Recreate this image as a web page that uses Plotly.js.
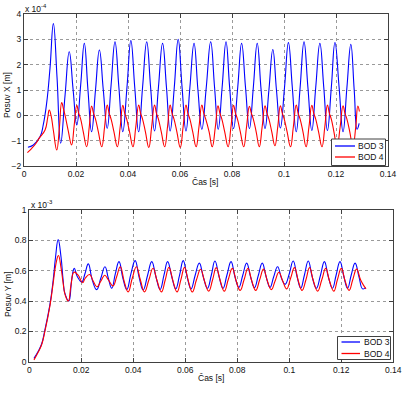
<!DOCTYPE html>
<html>
<head>
<meta charset="utf-8">
<script src="https://cdn.plot.ly/plotly-3.0.1.min.js"></script>
<style>
html,body{margin:0;padding:0;background:#fff;}
#chart{width:411px;height:393px;}
</style>
</head>
<body>
<div id="chart"></div>
<script>
// ---- Data ----
// Top plot: Posuv X, values in units of 1e-4 m
const tX3 = [0.0015,0.0036,0.0062,0.0074,0.0087,0.0100,0.0113,0.0127,0.0141,0.0158,0.0174,0.0189,0.0203,0.0218,0.0232,0.0246,0.0260,0.0275,0.0290,0.0305,0.0320,0.0335,0.0350,0.0365,0.0380,0.0396,0.0411,0.0426,0.0441,0.0456,0.0472,0.0487,0.0502,0.0517,0.0533,0.0548,0.0562,0.0578,0.0593,0.0608,0.0623,0.0638,0.0654,0.0669,0.0684,0.0701,0.0718,0.0733,0.0747,0.0762,0.0777,0.0791,0.0806,0.0822,0.0837,0.0852,0.0867,0.0882,0.0897,0.0912,0.0927,0.0942,0.0957,0.0971,0.0986,0.1002,0.1017,0.1032,0.1047,0.1062,0.1077,0.1092,0.1107,0.1122,0.1138,0.1153,0.1167,0.1182,0.1196,0.1212,0.1227,0.1242,0.1257,0.1270,0.1281,0.1289];
const yX3 = [-1.26,-1.17,-0.84,-0.38,0.47,1.86,3.62,1.5,-1.1,0.8,2.51,1.0,-0.38,1.2,2.84,1.0,-0.65,1.0,2.58,1.0,-0.51,1.2,2.9,1.1,-0.65,1.1,2.95,1.1,-0.65,1.1,2.9,1.1,-0.62,1.1,2.84,1.1,-0.62,1.1,3.0,1.1,-0.62,1.1,2.84,1.0,-0.55,1.1,2.9,1.1,-0.55,1.1,2.9,1.1,-0.52,1.1,2.84,1.1,-0.52,1.1,2.84,1.0,-0.52,1.0,2.6,1.0,-0.5,1.1,2.87,1.1,-0.65,1.1,2.9,1.1,-0.6,1.1,2.84,1.1,-0.6,1.1,2.87,1.1,-0.65,1.1,2.8,1.0,-0.55,-0.32];

const tX4 = [0.0013,0.0030,0.0045,0.0060,0.0081,0.0091,0.0097,0.0104,0.0113,0.0126,0.0136,0.0145,0.0152,0.0160,0.0170,0.0183,0.0193,0.0203,0.0210,0.0218,0.0228,0.0241,0.0251,0.0260,0.0267,0.0275,0.0286,0.0299,0.0310,0.0320,0.0327,0.0335,0.0346,0.0359,0.0370,0.0380,0.0387,0.0395,0.0406,0.0419,0.0430,0.0441,0.0448,0.0456,0.0467,0.0480,0.0491,0.0502,0.0509,0.0517,0.0528,0.0541,0.0552,0.0562,0.0569,0.0577,0.0588,0.0601,0.0612,0.0623,0.0630,0.0638,0.0649,0.0662,0.0673,0.0684,0.0691,0.0699,0.0712,0.0724,0.0736,0.0746,0.0753,0.0761,0.0772,0.0785,0.0796,0.0806,0.0813,0.0821,0.0832,0.0845,0.0856,0.0867,0.0874,0.0882,0.0893,0.0905,0.0916,0.0927,0.0934,0.0942,0.0953,0.0965,0.0976,0.0986,0.0993,0.1001,0.1012,0.1025,0.1036,0.1047,0.1054,0.1062,0.1073,0.1085,0.1096,0.1107,0.1114,0.1122,0.1133,0.1146,0.1157,0.1167,0.1174,0.1182,0.1192,0.1204,0.1216,0.1227,0.1234,0.1242,0.1253,0.1265,0.1276,0.1284,0.1290];
const yX4 = [-1.47,-1.3,-1.12,-0.88,-0.58,-0.1,0.21,0.0,-0.6,-1.37,-0.5,0.5,0.25,-0.1,-0.6,-1.17,-0.4,0.4,0.1,-0.15,-0.65,-1.24,-0.45,0.37,0.1,-0.15,-0.65,-1.24,-0.45,0.41,0.1,-0.15,-0.65,-1.24,-0.45,0.4,0.1,-0.15,-0.65,-1.24,-0.45,0.41,0.1,-0.15,-0.65,-1.27,-0.45,0.41,0.1,-0.15,-0.65,-1.24,-0.45,0.41,0.1,-0.15,-0.65,-1.27,-0.45,0.41,0.1,-0.15,-0.65,-1.24,-0.45,0.41,0.1,-0.15,-0.65,-1.24,-0.45,0.38,0.1,-0.15,-0.65,-1.24,-0.45,0.4,0.1,-0.15,-0.65,-1.24,-0.45,0.36,0.1,-0.15,-0.65,-1.24,-0.45,0.38,0.1,-0.15,-0.65,-1.2,-0.45,0.38,0.1,-0.15,-0.65,-1.24,-0.45,0.41,0.1,-0.15,-0.65,-1.24,-0.45,0.4,0.1,-0.15,-0.65,-1.24,-0.45,0.41,0.1,-0.15,-0.65,-1.24,-0.45,0.38,0.1,-0.15,-0.65,-1.24,-0.45,0.37,0.15];

// Bottom plot: Posuv Y, values in units of 1e-3 m
const tY3 = [0.0018,0.0035,0.0048,0.0060,0.0080,0.0092,0.0101,0.0111,0.0122,0.0130,0.0137,0.0152,0.0163,0.0173,0.0185,0.0202,0.0214,0.0227,0.0242,0.0259,0.0275,0.0291,0.0304,0.0317,0.0331,0.0345,0.0360,0.0375,0.0391,0.0407,0.0422,0.0438,0.0455,0.0471,0.0487,0.0503,0.0518,0.0532,0.0548,0.0563,0.0578,0.0592,0.0607,0.0622,0.0638,0.0654,0.0669,0.0685,0.0700,0.0714,0.0730,0.0745,0.0760,0.0776,0.0791,0.0806,0.0821,0.0836,0.0851,0.0866,0.0881,0.0896,0.0911,0.0926,0.0940,0.0955,0.0970,0.0984,0.1000,0.1015,0.1030,0.1044,0.1058,0.1073,0.1088,0.1104,0.1120,0.1135,0.1150,0.1166,0.1180,0.1195,0.1210,0.1224,0.1238,0.1253,0.1268,0.1282,0.1294];
const yY3 = [0.022,0.07,0.12,0.21,0.385,0.54,0.69,0.805,0.69,0.54,0.45,0.40,0.54,0.615,0.56,0.525,0.58,0.645,0.54,0.475,0.55,0.626,0.55,0.484,0.58,0.66,0.55,0.475,0.58,0.666,0.56,0.473,0.57,0.66,0.56,0.476,0.57,0.66,0.56,0.48,0.57,0.666,0.56,0.48,0.57,0.65,0.56,0.484,0.57,0.664,0.56,0.484,0.57,0.66,0.56,0.49,0.57,0.65,0.56,0.488,0.57,0.65,0.56,0.49,0.56,0.626,0.55,0.51,0.58,0.664,0.56,0.484,0.57,0.664,0.56,0.484,0.57,0.66,0.56,0.484,0.57,0.66,0.56,0.484,0.57,0.65,0.56,0.48,0.488];

const tY4 = [0.0018,0.0035,0.0048,0.0060,0.0080,0.0092,0.0102,0.0112,0.0122,0.0130,0.0138,0.0150,0.0160,0.0172,0.0188,0.0205,0.0215,0.0232,0.0246,0.0260,0.0275,0.0290,0.0304,0.0322,0.0336,0.0350,0.0365,0.0380,0.0396,0.0412,0.0427,0.0443,0.0460,0.0476,0.0492,0.0508,0.0523,0.0537,0.0553,0.0568,0.0583,0.0597,0.0612,0.0627,0.0643,0.0659,0.0674,0.0690,0.0705,0.0719,0.0735,0.0750,0.0765,0.0781,0.0796,0.0811,0.0826,0.0841,0.0856,0.0871,0.0886,0.0901,0.0916,0.0931,0.0945,0.0960,0.0975,0.0990,0.1005,0.1020,0.1035,0.1049,0.1064,0.1078,0.1093,0.1109,0.1125,0.1140,0.1155,0.1171,0.1185,0.1200,0.1215,0.1230,0.1244,0.1259,0.1274,0.1287,0.1295];
const yY4 = [0.012,0.065,0.115,0.2,0.375,0.52,0.64,0.70,0.62,0.52,0.44,0.40,0.5,0.59,0.57,0.52,0.55,0.575,0.53,0.494,0.53,0.57,0.54,0.50,0.56,0.626,0.53,0.46,0.55,0.626,0.54,0.46,0.54,0.616,0.53,0.46,0.54,0.622,0.53,0.46,0.54,0.622,0.53,0.46,0.54,0.609,0.53,0.465,0.54,0.62,0.53,0.465,0.54,0.615,0.53,0.47,0.54,0.615,0.53,0.47,0.54,0.61,0.53,0.475,0.53,0.59,0.53,0.48,0.55,0.62,0.53,0.47,0.54,0.62,0.53,0.465,0.54,0.615,0.53,0.465,0.54,0.615,0.53,0.47,0.54,0.61,0.54,0.5,0.48];

const seriesNames = ['BOD 3', 'BOD 4'];
const seriesColors = ['#0000ff', '#ff0000'];
const xTitle = 'Čas [s]';
const yTitleTop = 'Posuv X [m]';
const yTitleBottom = 'Posuv Y [m]';
const expTop = 'x 10<sup>-4</sup>';
const expBottom = 'x 10<sup>-3</sup>';

// ---- Styling ----
const W = 411, H = 393;
const FONT = 'Liberation Sans, Arial, sans-serif';
const TXT = '#111111';
const FS = 8.5;
const px = (x) => x / W;          // pixel -> paper x
const py = (y) => (H - y) / H;    // pixel -> paper y

const axisCommon = {
  showline: true, mirror: 'ticks', linecolor: '#404040', linewidth: 1,
  ticks: 'inside', ticklen: 4, tickcolor: '#404040', tickwidth: 1,
  showgrid: true, gridcolor: '#9a9a9a', griddash: 'dot', gridwidth: 1,
  zeroline: false, tickfont: {family: FONT, size: FS, color: TXT},
  automargin: false, fixedrange: true
};
const lineStyle = (c) => ({color: c, width: 1.1, shape: 'spline', smoothing: 1.3});

const traces = [
  {x: tX3, y: yX3, name: seriesNames[0], mode: 'lines', line: lineStyle(seriesColors[0]), xaxis: 'x', yaxis: 'y'},
  {x: tX4, y: yX4, name: seriesNames[1], mode: 'lines', line: lineStyle(seriesColors[1]), xaxis: 'x', yaxis: 'y'},
  {x: tY3, y: yY3, name: seriesNames[0], mode: 'lines', line: lineStyle(seriesColors[0]), xaxis: 'x2', yaxis: 'y2'},
  {x: tY4, y: yY4, name: seriesNames[1], mode: 'lines', line: lineStyle(seriesColors[1]), xaxis: 'x2', yaxis: 'y2'}
];

// Compact MATLAB-style legends built from layout shapes + annotations
function legendBox(x0, y0, x1, y1, rows, sampleX0, sampleX1, textX) {
  const shapes = [{type: 'rect', xref: 'paper', yref: 'paper', x0: px(x0), x1: px(x1), y0: py(y1), y1: py(y0),
    fillcolor: '#ffffff', line: {color: '#404040', width: 1}, layer: 'above'}];
  const anns = [];
  rows.forEach((ry, i) => {
    shapes.push({type: 'line', xref: 'paper', yref: 'paper', x0: px(sampleX0), x1: px(sampleX1), y0: py(ry), y1: py(ry),
      line: {color: seriesColors[i], width: 1.3}, layer: 'above'});
    anns.push({text: seriesNames[i], xref: 'paper', yref: 'paper', x: px(textX), y: py(ry), xanchor: 'left', yanchor: 'middle',
      showarrow: false, font: {family: FONT, size: FS, color: TXT}});
  });
  return {shapes, anns};
}
const legTop = legendBox(331.5, 139, 385.5, 165.5, [146, 157], 335, 355, 356);
const legBot = legendBox(337.5, 336.5, 390.5, 359.5, [342, 353.5], 341.5, 360, 361.5);

function label(text, x, y, angle) {
  return {text: text, xref: 'paper', yref: 'paper', x: px(x), y: py(y), xanchor: 'center', yanchor: 'middle',
    textangle: angle || 0, showarrow: false, font: {family: FONT, size: FS, color: TXT}};
}

const layout = {
  width: W, height: H,
  margin: {l: 0, r: 0, t: 0, b: 0},
  paper_bgcolor: '#ffffff', plot_bgcolor: '#ffffff',
  showlegend: false,
  xaxis: Object.assign({}, axisCommon, {domain: [px(24), px(388)], range: [0, 0.14], tick0: 0, dtick: 0.02, anchor: 'y'}),
  yaxis: Object.assign({}, axisCommon, {domain: [py(166), py(14)], range: [-2, 4], tick0: -2, dtick: 1, anchor: 'x'}),
  xaxis2: Object.assign({}, axisCommon, {domain: [px(29.3), px(393.3)], range: [0, 0.14], tick0: 0, dtick: 0.02, anchor: 'y2'}),
  yaxis2: Object.assign({}, axisCommon, {domain: [py(361.7), py(210)], range: [0, 1], tick0: 0, dtick: 0.2, anchor: 'x2'}),
  shapes: legTop.shapes.concat(legBot.shapes),
  annotations: [
    {text: expTop, xref: 'paper', yref: 'paper', x: px(23), y: py(1), xanchor: 'left', yanchor: 'top', showarrow: false,
     font: {family: FONT, size: FS, color: TXT}},
    {text: expBottom, xref: 'paper', yref: 'paper', x: px(28.5), y: py(197), xanchor: 'left', yanchor: 'top', showarrow: false,
     font: {family: FONT, size: FS, color: TXT}},
    label(xTitle, 205, 182),
    label(xTitle, 211, 378),
    label(yTitleTop, 7, 95, -90),
    label(yTitleBottom, 8, 294, -90)
  ].concat(legTop.anns, legBot.anns)
};

Plotly.newPlot('chart', traces, layout, {displayModeBar: false, staticPlot: true});
</script>
</body>
</html>
